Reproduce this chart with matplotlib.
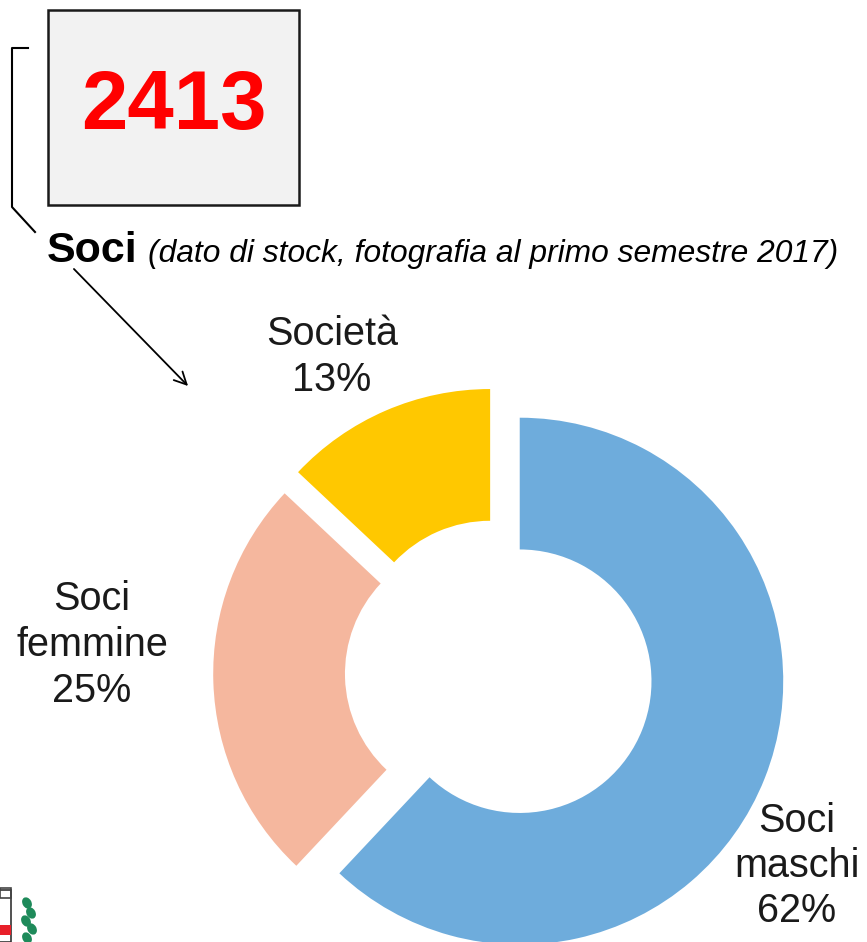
import matplotlib.pyplot as plt
from matplotlib.patches import Rectangle, Polygon, Ellipse

plt.rcParams['font.family'] = ['Liberation Sans', 'DejaVu Sans']

# ---------- data ----------
categories = ['Soci maschi', 'Soci femmine', 'Società']
shares = [62, 25, 13]
colors = ['#6EACDC', '#F5B79E', '#FFC800']
total_soci = 2413
title = 'Soci'
subtitle = '(dato di stock, fotografia al primo semestre 2017)'
label_text = ['Soci\nmaschi', 'Soci\nfemmine', 'Società']

W, H = 867, 942
fig = plt.figure(figsize=(W / 100, H / 100), dpi=100)
ax = fig.add_axes([0, 0, 1, 1])

def Y(y):
    # picture rows counted from the top
    return H - y

# donut (explode is in data units here, i.e. pixels)
R = 263.5
ax.pie(shares, colors=colors, startangle=90, counterclock=False,
       radius=R, center=(499, Y(673)), explode=[22.3] * 3,
       wedgeprops=dict(width=R * 0.5, edgecolor='none'))

# labels
label_pos = [(797, 866), (92, 645), (332, 357)]
for txt, val, (lx, ly) in zip(label_text, shares, label_pos):
    ax.text(lx, Y(ly), '%s\n%d%%' % (txt, val), ha='center', va='center',
            fontsize=28.5, color='#1a1a1a', linespacing=1.25)

# box with the total
ax.add_patch(Rectangle((48, Y(205)), 251, 195, facecolor='#f2f2f2',
                       edgecolor='#1a1a1a', lw=1.8))
ax.text(174, Y(107), str(total_soci), ha='center', va='center',
        fontsize=60, fontweight='bold', color='#ff0000')

# title line
ax.text(47, Y(262), title, ha='left', va='baseline', fontsize=31,
        fontweight='bold', color='black')
ax.text(148, Y(262), subtitle, ha='left', va='baseline', fontsize=22.9,
        style='italic', color='black')

# bracket and arrow
ax.plot([28, 12, 12, 35], [Y(48), Y(48), Y(207), Y(232)], color='black', lw=1.5)
ax.annotate('', xy=(190, Y(388)), xytext=(72, Y(267)),
            arrowprops=dict(arrowstyle='->', color='black', lw=1.3,
                            mutation_scale=22))

# bits of the logo cut at the bottom-left corner
ax.add_patch(Rectangle((-5, Y(942)), 16, 52, facecolor='white',
                       edgecolor='#333333', lw=1.2))
ax.add_patch(Rectangle((-5, Y(935)), 16, 10, facecolor='#e8202a', edgecolor='none'))
ax.add_patch(Polygon([(0, Y(888)), (11, Y(888)), (11, Y(898)), (0, Y(898))],
                     closed=True, facecolor='none', edgecolor='#444444', lw=1.2))
for lx, ly in [(27, 903), (31, 913), (26, 921), (32, 929), (27, 938)]:
    ax.add_patch(Ellipse((lx, Y(ly)), 9, 12, angle=30,
                         facecolor='#1e8a5a', edgecolor='none'))

ax.set_xlim(0, W)
ax.set_ylim(0, H)
ax.set_aspect('equal')
ax.axis('off')

fig.savefig('out.png', dpi=100, facecolor='white')
